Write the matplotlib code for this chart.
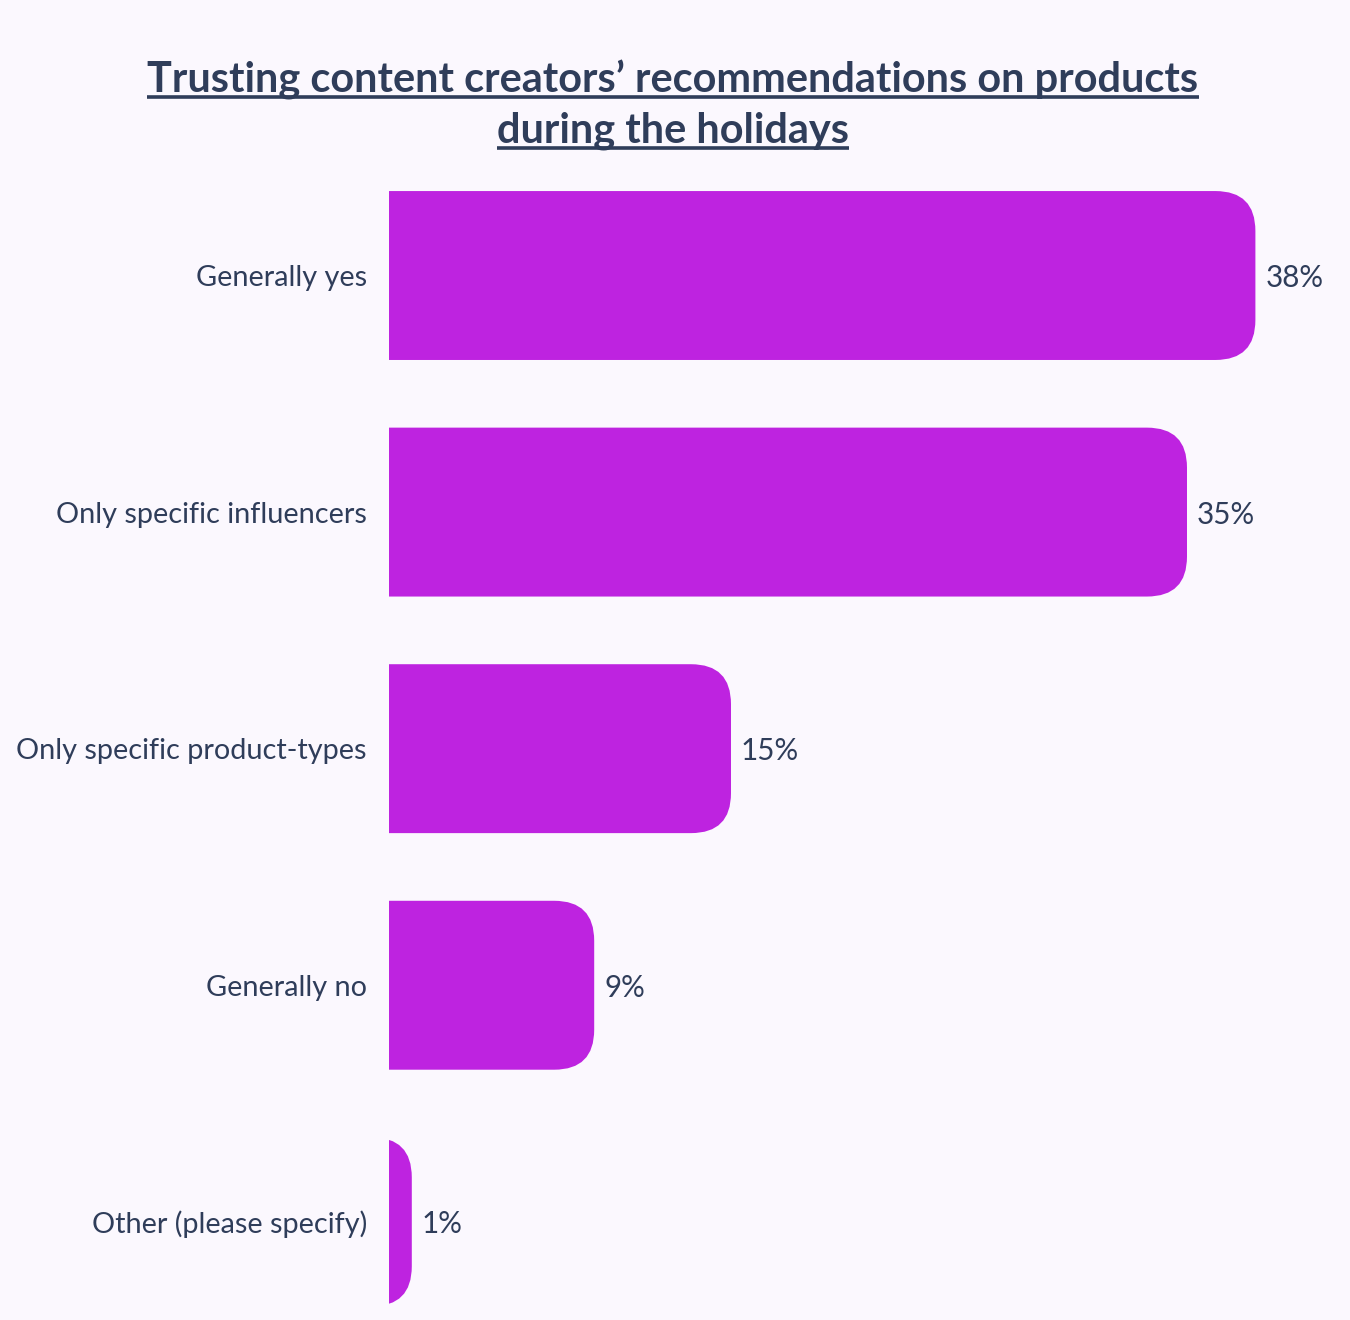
import matplotlib
matplotlib.use("Agg")
import matplotlib.pyplot as plt
from matplotlib.patches import FancyBboxPatch
from matplotlib.lines import Line2D

# Data
CATEGORIES = [
    "Generally yes",
    "Only specific influencers",
    "Only specific product-types",
    "Generally no",
    "Other (please specify)",
]
VALUES = [38, 35, 15, 9, 1]
TITLE_LINES = [
    "Trusting content creators\u2019 recommendations on products",
    "during the holidays",
]

# Styling
BG = "#FBF8FE"
BAR_COLOR = "#BE23E0"
TEXT_COLOR = "#2F3D5A"
BAR_HEIGHT = 0.714
FONT = ["Lato", "DejaVu Sans"]
W, H = 1350, 1320
DPI = 100

plt.rcParams["font.family"] = FONT

fig = plt.figure(figsize=(W / DPI, H / DPI), dpi=DPI, facecolor=BG)
ax_left = 389 / W
ax_top = (H - 170) / H
ax = fig.add_axes([ax_left, 0, 912 / W, ax_top])
ax.set_facecolor(BG)
ax.set_xlim(0, 40)
ax.set_ylim(4.415, -0.446)

# pixel -> data scale for the corner radius
# (the "round" boxstyle uses quadratic curves, so it looks tighter than a circle)
px_per_x = 912 / 40
px_per_y = (H - 170) / (4.415 + 0.446)
radius_px = 40
rx = radius_px / px_per_x
ry = radius_px / px_per_y

for i, (cat, val) in enumerate(zip(CATEGORIES, VALUES)):
    # start left of the axes so the left corners are clipped away (square)
    box = FancyBboxPatch(
        (-3, i - BAR_HEIGHT / 2), val + 3, BAR_HEIGHT,
        boxstyle=f"round,pad=0,rounding_size={rx}",
        mutation_aspect=ry / rx,
        facecolor=BAR_COLOR, edgecolor="none",
    )
    ax.add_patch(box)
    ax.annotate(f"{val}%", (val, i), xytext=(10, 0), textcoords="offset pixels",
                ha="left", va="center_baseline", fontsize=21.3, color=TEXT_COLOR)

ax.set_yticks(range(len(CATEGORIES)))
ax.set_yticklabels(CATEGORIES, fontsize=20.8, color=TEXT_COLOR)
ax.tick_params(axis="y", length=0, pad=16)
ax.set_xticks([])
for s in ax.spines.values():
    s.set_visible(False)

# Title, two centred lines with underline
title_texts = []
for k, line in enumerate(TITLE_LINES):
    t = fig.text(673 / W, 1 - (92 + 51 * k) / H, line, ha="center", va="baseline",
                 fontsize=29.9, fontweight="bold", color=TEXT_COLOR)
    title_texts.append(t)

fig.canvas.draw()
renderer = fig.canvas.get_renderer()
for k, t in enumerate(title_texts):
    bb = t.get_window_extent(renderer)
    y_line = H - (97 + 51 * k)
    fig.add_artist(Line2D([bb.x0 / W, bb.x1 / W], [y_line / H, y_line / H],
                          transform=fig.transFigure, color=TEXT_COLOR, lw=2.6,
                          solid_capstyle="butt"))

fig.savefig("out.png", dpi=DPI, facecolor=BG)
